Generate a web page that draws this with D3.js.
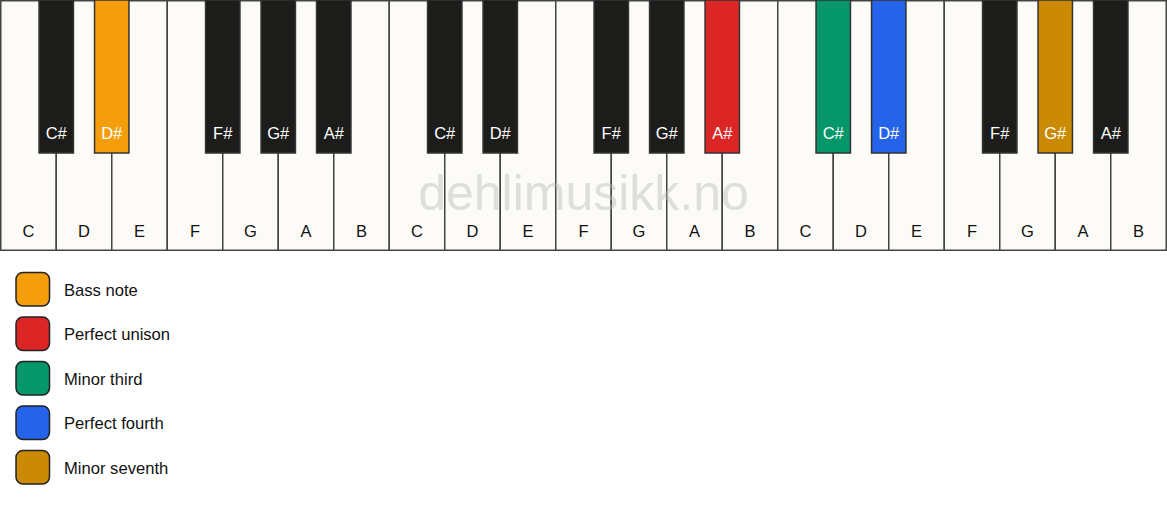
<!DOCTYPE html>
<html>
<head>
<meta charset="utf-8">
<script src="https://cdn.jsdelivr.net/npm/d3@7"></script>
<style>
  body{margin:0;background:#fff;}
  text{font-family:"Liberation Sans",Arial,sans-serif;}
</style>
</head>
<body>
<svg id="chart" width="1167" height="506"></svg>
<script>
// keyboard data
const octaves=3;
const whiteNames=["C","D","E","F","G","A","B"];
// black key name and the white key index (within octave) it sits after
const blackNames=["C#","D#","F#","G#","A#"];
const blackAfter=[0,1,3,4,5];
// highlighted keys: octave index, note name, role
const highlightOctave=[0,1,2,2,2];
const highlightNote=["D#","A#","C#","D#","G#"];
const highlightRole=["Bass note","Perfect unison","Minor third","Perfect fourth","Minor seventh"];
const roleColors=["#f59e0b","#dc2626","#059669","#2563eb","#ca8a04"];

const W=1167,H=506;
const svg=d3.select("#chart");

let whites=[];
for(let o=0;o<octaves;o++)
  whiteNames.forEach((n,i)=>whites.push({name:n,octave:o,idx:o*7+i}));
let blacks=[];
for(let o=0;o<octaves;o++)
  blackNames.forEach((n,i)=>blacks.push({name:n,octave:o,pos:o*7+blackAfter[i]+1}));

let color=d3.scaleOrdinal().domain(highlightRole).range(roleColors);
const roleOf=(k)=>{
  for(let i=0;i<highlightNote.length;i++)
    if(highlightOctave[i]===k.octave && highlightNote[i]===k.name) return highlightRole[i];
  return null;
}

let x=d3.scaleLinear().domain([0,whites.length]).range([0.75,W-0.75]);
let keyH=249.5, blackH=153;
let whiteW=x(1)-x(0), blackW=whiteW*0.62;

let kb=svg.append("g");
kb.selectAll("rect.white")
  .data(whites)
  .enter()
    .append("rect")
    .attr("class","white")
    .attr("x",(d)=>x(d.idx))
    .attr("y",0.75)
    .attr("width",whiteW)
    .attr("height",keyH)
    .attr("fill","#fcfbf7")
    .attr("stroke","#444")
    .attr("stroke-width",1.5);
kb.selectAll("text.wlabel")
  .data(whites)
  .enter()
    .append("text")
    .attr("class","wlabel")
    .attr("x",(d)=>x(d.idx)+whiteW/2)
    .attr("y",237)
    .attr("text-anchor","middle")
    .attr("font-size",16.5)
    .attr("fill","#111")
    .text((d)=>d.name);

// watermark
svg.append("text")
  .attr("x",W/2)
  .attr("y",210)
  .attr("text-anchor","middle")
  .attr("font-size",50)
  .attr("fill","#bbb")
  .attr("opacity",0.45)
  .text("dehlimusikk.no");

kb.selectAll("rect.black")
  .data(blacks)
  .enter()
    .append("rect")
    .attr("class","black")
    .attr("x",(d)=>x(d.pos)-blackW/2)
    .attr("y",0)
    .attr("width",blackW)
    .attr("height",blackH)
    .attr("fill",(d)=>{let r=roleOf(d);return r?color(r):"#1c1c1a";})
    .attr("stroke","#333")
    .attr("stroke-width",1.5);
kb.selectAll("text.blabel")
  .data(blacks)
  .enter()
    .append("text")
    .attr("class","blabel")
    .attr("x",(d)=>x(d.pos))
    .attr("y",139)
    .attr("text-anchor","middle")
    .attr("font-size",16.5)
    .attr("fill","#fff")
    .text((d)=>d.name);

// legend
let ly=d3.scaleLinear().domain([0,1]).range([289,333.5]);
let leg=svg.append("g")
  .selectAll("g")
  .data(highlightRole)
  .enter()
    .append("g")
    .attr("transform",(d,i)=>`translate(16,${ly(i)})`);
leg.append("rect")
  .attr("x",0)
  .attr("y",-16.5)
  .attr("width",33.5)
  .attr("height",33.5)
  .attr("rx",7)
  .attr("fill",(d)=>color(d))
  .attr("stroke","#222")
  .attr("stroke-width",1.5);
leg.append("text")
  .attr("x",48)
  .attr("y",6.5)
  .attr("font-size",16.6)
  .attr("fill","#111")
  .text((d)=>d);
</script>
</body>
</html>
